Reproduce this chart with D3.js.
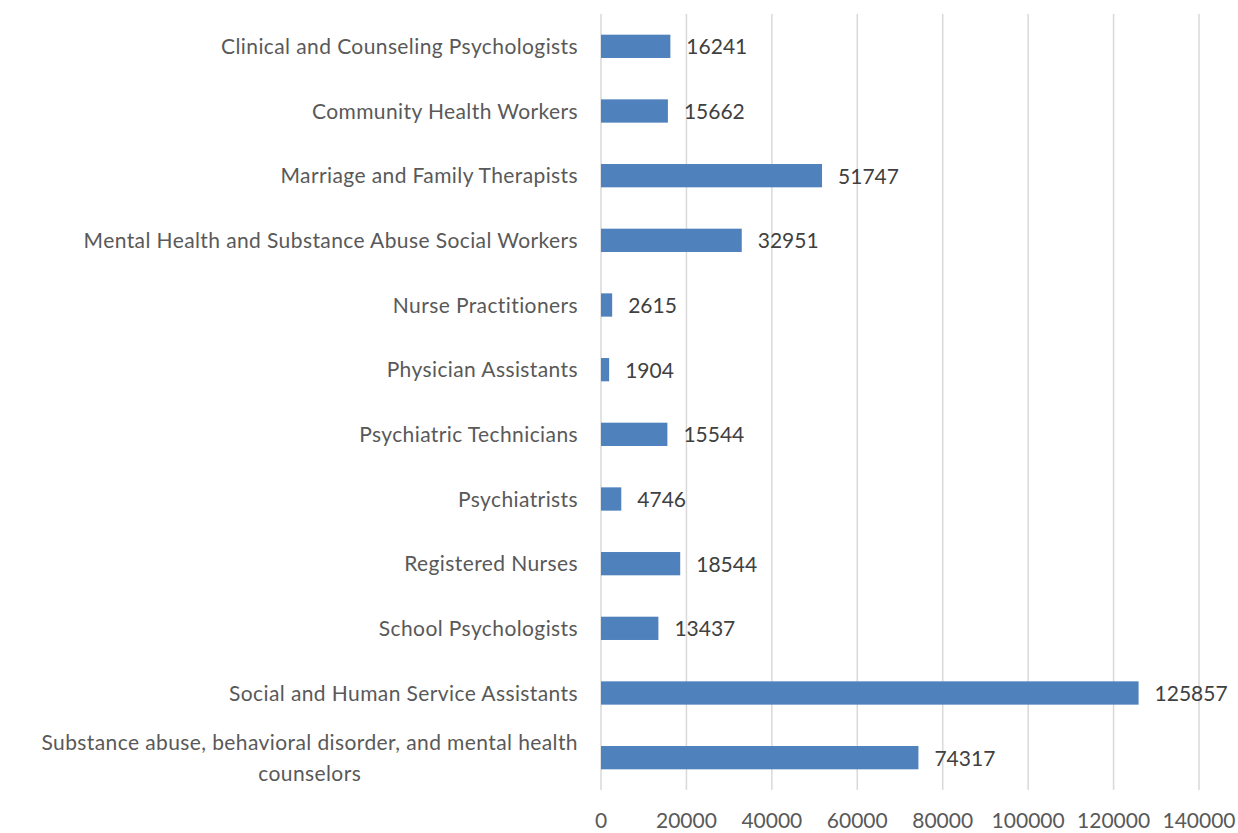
<!DOCTYPE html>
<html><head><meta charset="utf-8">
<script src="https://cdn.jsdelivr.net/npm/d3@7"></script>
<style>body{margin:0;background:#fff;} svg{display:block;}</style>
</head><body>
<svg id="chart" width="1238" height="833"></svg>
<script>
const categories = [
  "Clinical and Counseling Psychologists",
  "Community Health Workers",
  "Marriage and Family Therapists",
  "Mental Health and Substance Abuse Social Workers",
  "Nurse Practitioners",
  "Physician Assistants",
  "Psychiatric Technicians",
  "Psychiatrists",
  "Registered Nurses",
  "School Psychologists",
  "Social and Human Service Assistants",
  "Substance abuse, behavioral disorder, and mental health counselors"
];
const values = [16241, 15662, 51747, 32951, 2615, 1904, 15544, 4746, 18544, 13437, 125857, 74317];
const tickValues = [0, 20000, 40000, 60000, 80000, 100000, 120000, 140000];

const svg = d3.select("#chart");
const font = "Lato, 'Open Sans', sans-serif";
const x = d3.scaleLinear().domain([0, 140000]).range([601, 1199]);
const y = d3.scaleBand().domain(categories).range([14, 790]).paddingInner(0.64).paddingOuter(0.32);

// gridlines
svg.append("g").selectAll("line").data(tickValues).join("line")
  .attr("x1", d => x(d)).attr("x2", d => x(d))
  .attr("y1", 14).attr("y2", 790)
  .attr("stroke", "#d9d9d9").attr("stroke-width", 1.5);

// x tick labels
svg.append("g").selectAll("text").data(tickValues).join("text")
  .attr("x", d => x(d)).attr("y", 828)
  .attr("text-anchor", "middle")
  .attr("font-family", font).attr("font-size", 21).attr("fill", "#595959")
  .text(d => d);

// bars
svg.append("g").selectAll("rect").data(categories).join("rect")
  .attr("x", x(0)).attr("y", d => y(d))
  .attr("width", (d, i) => x(values[i]) - x(0))
  .attr("height", y.bandwidth())
  .attr("fill", "#4f81bd");

// value labels
svg.append("g").selectAll("text").data(categories).join("text")
  .attr("x", (d, i) => x(values[i]) + 16)
  .attr("y", d => y(d) + y.bandwidth() / 2 + 8)
  .attr("font-family", font).attr("font-size", 21).attr("fill", "#404040")
  .text((d, i) => values[i]);

// category labels
const lab = svg.append("g")
  .attr("font-family", font).attr("font-size", 21).attr("fill", "#595959")
  .attr("letter-spacing", 0.4);
categories.forEach((c, i) => {
  const cy = y(c) + y.bandwidth() / 2;
  if (i === categories.length - 1) {
    const t1 = lab.append("text").attr("x", 578).attr("y", cy - 7.5)
      .attr("text-anchor", "end")
      .text("Substance abuse, behavioral disorder, and mental health");
    const w = t1.node().getComputedTextLength();
    lab.append("text").attr("x", 578 - w / 2).attr("y", cy + 23.5)
      .attr("text-anchor", "middle")
      .text("counselors");
  } else {
    lab.append("text").attr("x", 578).attr("y", cy + 7.5)
      .attr("text-anchor", "end")
      .text(c);
  }
});
</script>
</body></html>
